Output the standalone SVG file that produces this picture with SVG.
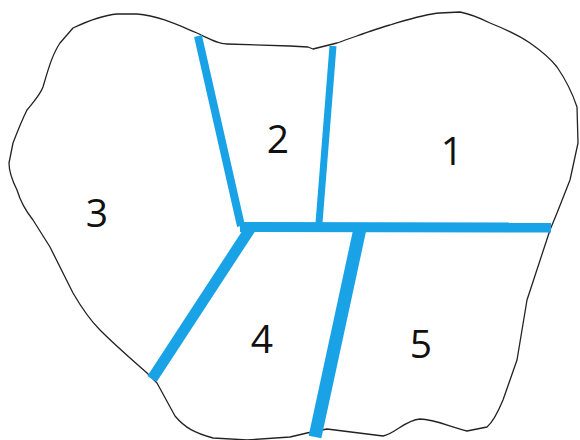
<svg xmlns="http://www.w3.org/2000/svg" width="580" height="440" viewBox="0 0 580 440">
<style>
.outline{fill:#ffffff;stroke:#222222;stroke-width:1.3;stroke-linejoin:round}
.wall{stroke:#19a3e6;fill:none;stroke-linecap:butt}
.lbl{font-family:"Open Sans","Liberation Sans",sans-serif;font-size:39px;fill:#111111;text-anchor:middle}
</style>
<rect width="580" height="440" fill="#ffffff"/>
<g id="boundary">
<path class="outline" d="M73,28 C90,20 105,15 117,14 L137,14 C160,16 180,26 197,33 C210,39 218,44 227,44 L290,46 L308,47 L313,49 L337,43 C360,35 375,29 390,25 C410,19 425,14 440,13 L460,12 C470,14 480,18 490,23 C505,29 518,35 530,43 C540,50 550,58 557,67 C566,80 573,95 577,107 L578,143 L570,180 L557,213 L550,230 L527,300 L517,360 L503,400 C498,412 493,422 487,427 L467,431 C450,427 435,419 420,419 C405,420 395,434 383,436 L327,429 L307,433 L290,437 L247,440 L213,438 C195,433 185,428 175,416 L157,383 L147,373 C130,358 115,345 100,330 C88,318 80,305 73,293 L50,247 L33,220 C25,210 20,200 17,190 C12,180 9,170 9,163 L13,143 C18,130 22,120 27,110 C35,100 40,95 43,87 C48,70 52,55 60,43 Z"/>
</g>
<g id="connectors">
<line class="wall" x1="198" y1="36" x2="241" y2="226" stroke-width="8"/>
<line class="wall" x1="333" y1="46" x2="319" y2="223" stroke-width="7"/>
<line class="wall" x1="240" y1="227" x2="551" y2="227.5" stroke-width="10"/>
<line class="wall" x1="252" y1="226" x2="152" y2="379" stroke-width="11"/>
<line class="wall" x1="361" y1="224" x2="315" y2="437" stroke-width="13"/>
</g>
<g id="region1"><text class="lbl" x="452" y="165">1</text></g>
<g id="region2"><text class="lbl" x="278" y="153">2</text></g>
<g id="region3"><text class="lbl" x="97" y="227">3</text></g>
<g id="region4"><text class="lbl" x="262" y="353">4</text></g>
<g id="region5"><text class="lbl" x="421" y="358">5</text></g>
</svg>
